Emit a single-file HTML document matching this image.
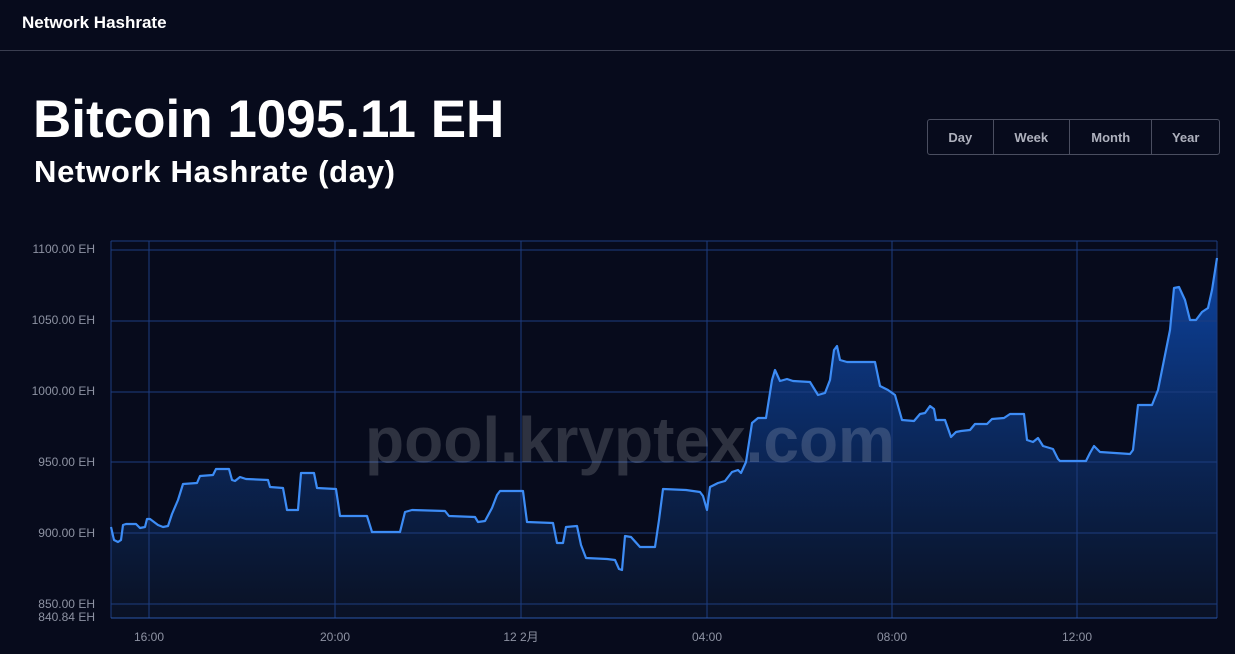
<!DOCTYPE html>
<html><head><meta charset="utf-8"><style>
body{margin:0;width:1235px;height:654px;background:#070b1c;font-family:"Liberation Sans",sans-serif;overflow:hidden;position:relative;color:#fff}
.hdr{position:absolute;left:22px;top:13px;font-size:17px;font-weight:bold}
.line{position:absolute;left:0;top:50px;width:1235px;height:1px;background:#3a3e50}
.t1{position:absolute;left:33px;top:89px;font-size:53px;font-weight:bold}
.t2{position:absolute;left:34px;top:154px;font-size:31px;font-weight:bold;letter-spacing:0.7px}
.btns{position:absolute;left:927px;top:119px;width:291px;height:34px;border:1px solid #4a4e60;border-radius:3px;display:flex}
.btns div{display:flex;align-items:center;justify-content:center;color:#aeb1bd;font-size:13px;font-weight:bold;border-right:1px solid #4a4e60}
.btns div:last-child{border-right:none}
</style></head><body>
<div class="hdr">Network Hashrate</div>
<div class="line"></div>
<div class="t1">Bitcoin 1095.11 EH</div>
<div class="t2">Network Hashrate (day)</div>
<div class="btns"><div style="width:65px">Day</div><div style="width:76px">Week</div><div style="width:82px">Month</div><div style="width:67px">Year</div></div>
<svg width="1235" height="654" style="position:absolute;left:0;top:0">
<defs><linearGradient id="g" gradientUnits="userSpaceOnUse" x1="0" y1="260" x2="0" y2="618"><stop offset="0" stop-color="#0d4ab0" stop-opacity="0.9"/><stop offset="1" stop-color="#0b1428" stop-opacity="0.7"/></linearGradient></defs>
<path fill="url(#g)" d="M111,618 L111,527 114,540 118,542 121,540 123,525 126,524 136,524 140,528 145,527 147,519 150,519 158,525 163,527 168,526 172,514 178,500 183,484 197,483 200,476 213,475 216,469 229,469 232,480 235,481 240,477 246,479 268,480 270,487 283,488 287,510 298,510 301,473 314,473 317,488 336,489 340,516 367,516 372,532 400,532 405,512 412,510 445,511 449,516 475,517 478,522 485,521 492,508 497,495 500,491 523,491 527,522 553,523 557,543 563,543 566,527 577,526 581,545 586,558 607,559 615,560 619,569 622,570 625,536 631,537 640,547 655,547 659,520 663,489 686,490 700,492 703,496 707,510 710,487 718,483 725,481 732,472 738,470 741,473 746,462 752,423 758,418 766,418 772,380 775,370 780,381 787,379 793,381 810,382 818,395 825,393 830,380 834,350 837,346 840,360 847,362 875,362 880,386 888,390 895,395 902,420 914,421 920,414 925,413 930,406 934,409 936,420 945,420 951,437 956,432 961,431 970,430 975,424 987,424 992,419 1004,418 1010,414 1024,414 1027,440 1033,442 1038,438 1043,446 1053,449 1058,459 1060,461 1086,461 1090,453 1094,446 1100,452 1130,454 1133,450 1138,405 1152,405 1158,390 1163,365 1170,330 1174,288 1179,287 1185,300 1190,320 1196,320 1202,312 1208,308 1212,290 1217,258 L1217,618 Z"/>
<g stroke="#1d3d80" stroke-width="1">
<line x1="111" y1="241" x2="1217" y2="241"/>
<line x1="111" y1="250" x2="1217" y2="250"/><line x1="111" y1="321" x2="1217" y2="321"/><line x1="111" y1="392" x2="1217" y2="392"/><line x1="111" y1="462" x2="1217" y2="462"/><line x1="111" y1="533" x2="1217" y2="533"/><line x1="111" y1="604" x2="1217" y2="604"/>
<line x1="149" y1="241" x2="149" y2="618"/><line x1="335" y1="241" x2="335" y2="618"/><line x1="521" y1="241" x2="521" y2="618"/><line x1="707" y1="241" x2="707" y2="618"/><line x1="892" y1="241" x2="892" y2="618"/><line x1="1077" y1="241" x2="1077" y2="618"/>
<line x1="111" y1="241" x2="111" y2="618"/><line x1="1217" y1="241" x2="1217" y2="618"/>
</g>
<line x1="111" y1="618" x2="1217" y2="618" stroke="#2a56a8"/>
<text x="630" y="462" text-anchor="middle" font-size="64" font-weight="bold" fill="#ffffff" fill-opacity="0.16">pool.kryptex.com</text>
<polyline fill="none" stroke="#3d8cf5" stroke-width="2.2" stroke-linejoin="round" points="111,527 114,540 118,542 121,540 123,525 126,524 136,524 140,528 145,527 147,519 150,519 158,525 163,527 168,526 172,514 178,500 183,484 197,483 200,476 213,475 216,469 229,469 232,480 235,481 240,477 246,479 268,480 270,487 283,488 287,510 298,510 301,473 314,473 317,488 336,489 340,516 367,516 372,532 400,532 405,512 412,510 445,511 449,516 475,517 478,522 485,521 492,508 497,495 500,491 523,491 527,522 553,523 557,543 563,543 566,527 577,526 581,545 586,558 607,559 615,560 619,569 622,570 625,536 631,537 640,547 655,547 659,520 663,489 686,490 700,492 703,496 707,510 710,487 718,483 725,481 732,472 738,470 741,473 746,462 752,423 758,418 766,418 772,380 775,370 780,381 787,379 793,381 810,382 818,395 825,393 830,380 834,350 837,346 840,360 847,362 875,362 880,386 888,390 895,395 902,420 914,421 920,414 925,413 930,406 934,409 936,420 945,420 951,437 956,432 961,431 970,430 975,424 987,424 992,419 1004,418 1010,414 1024,414 1027,440 1033,442 1038,438 1043,446 1053,449 1058,459 1060,461 1086,461 1090,453 1094,446 1100,452 1130,454 1133,450 1138,405 1152,405 1158,390 1163,365 1170,330 1174,288 1179,287 1185,300 1190,320 1196,320 1202,312 1208,308 1212,290 1217,258"/>
<g font-size="12" fill="#8e93a3" text-anchor="end">
<text x="95" y="253">1100.00 EH</text><text x="95" y="324">1050.00 EH</text><text x="95" y="395">1000.00 EH</text><text x="95" y="466">950.00 EH</text><text x="95" y="537">900.00 EH</text><text x="95" y="608">850.00 EH</text><text x="95" y="621">840.84 EH</text>
</g>
<g font-size="12" fill="#8e93a3" text-anchor="middle" font-family="Liberation Sans, Noto Sans CJK SC, sans-serif">
<text x="149" y="641">16:00</text><text x="335" y="641">20:00</text><text x="521" y="641">12 2月</text><text x="707" y="641">04:00</text><text x="892" y="641">08:00</text><text x="1077" y="641">12:00</text>
</g>
</svg>
</body></html>
